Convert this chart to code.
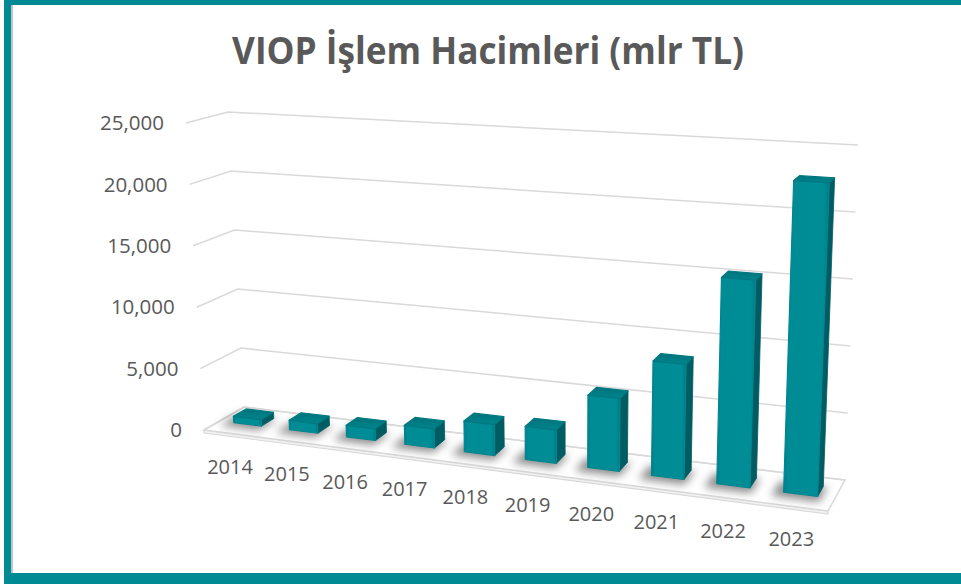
<!DOCTYPE html>
<html>
<head>
<meta charset="utf-8">
<script src="https://cdn.jsdelivr.net/npm/d3@7"></script>
<style>
  html, body { margin: 0; padding: 0; background: #fff; }
  svg { display: block; font-family: "Open Sans", "DejaVu Sans", sans-serif; }
</style>
</head>
<body>
<svg id="chart" width="961" height="584"></svg>
<script>
// VIOP trading volume, bn TL
const years = ["2014", "2015", "2016", "2017", "2018", "2019", "2020", "2021", "2022", "2023"];
const volumes = [520, 760, 930, 1500, 2400, 2550, 5500, 8600, 15300, 22800];
const yTicks = [0, 5000, 10000, 15000, 20000, 25000];
const title = "VIOP İşlem Hacimleri (mlr TL)";

const d3w = window.d3;
const svg = d3w.select("#chart");
const W = 961, H = 584;

// frame
svg.append("rect").attr("x", 0).attr("y", 0).attr("width", W).attr("height", H).attr("fill", "#fff");
svg.append("rect").attr("x", 4).attr("y", 0).attr("width", W).attr("height", 5).attr("fill", "#008b94");
svg.append("rect").attr("x", 4).attr("y", 0).attr("width", 7).attr("height", H).attr("fill", "#008b94");
svg.append("rect").attr("x", 11).attr("y", 5).attr("width", 2).attr("height", H - 16).attr("fill", "#b9c9cb");
svg.append("rect").attr("x", 4).attr("y", 573).attr("width", W).attr("height", 11).attr("fill", "#008b94");

// ---- pseudo 3D projection (box corners of the plot cube, screen px) ----
const BACK = { bl: [244, 407], br: [845, 480], tl: [228, 112], tr: [858, 145] };
const FRONT = { bl: [204, 430], br: [828, 511], tl: [186, 123], tr: [842, 159] };
const warp = t => t / (1.12 - 0.12 * t);   // foreshortening along category axis

function bilin(q, u, v) {
  const bx = q.bl[0] + (q.br[0] - q.bl[0]) * u, by = q.bl[1] + (q.br[1] - q.bl[1]) * u;
  const tx = q.tl[0] + (q.tr[0] - q.tl[0]) * u, ty = q.tl[1] + (q.tr[1] - q.tl[1]) * u;
  return [bx + (tx - bx) * v, by + (ty - by) * v];
}
function P(t, v, z) {
  const u = warp(t);
  const b = bilin(BACK, u, v), f = bilin(FRONT, u, v);
  return [b[0] + (f[0] - b[0]) * z, b[1] + (f[1] - b[1]) * z];
}
const poly = pts => pts.map(p => p.join(",")).join(" ");

const x = d3w.scaleBand().domain(years).range([0, 1]).paddingInner(0.5).paddingOuter(0.25);
const y = d3w.scaleLinear().domain([0, 25000]).range([0, 1]);
const Z0 = 0.28, Z1 = 0.6;

const defs = svg.append("defs");
defs.append("filter").attr("id", "blur").attr("x", "-50%").attr("y", "-50%").attr("width", "200%").attr("height", "200%")
  .append("feGaussianBlur").attr("stdDeviation", 4);
const gFront = defs.append("linearGradient").attr("id", "gFront").attr("x1", 0).attr("x2", 1).attr("y1", 0).attr("y2", 0);
gFront.append("stop").attr("offset", "0%").attr("stop-color", "#007f88");
gFront.append("stop").attr("offset", "10%").attr("stop-color", "#008c95");
gFront.append("stop").attr("offset", "88%").attr("stop-color", "#008d96");
gFront.append("stop").attr("offset", "100%").attr("stop-color", "#007a83");
const gTop = defs.append("linearGradient").attr("id", "gTop").attr("x1", 0).attr("x2", 0).attr("y1", 0).attr("y2", 1);
gTop.append("stop").attr("offset", "0%").attr("stop-color", "#00737b");
gTop.append("stop").attr("offset", "100%").attr("stop-color", "#00858d");

// title
svg.append("text")
  .attr("x", 488).attr("y", 64)
  .attr("text-anchor", "middle")
  .attr("font-size", 37).attr("font-weight", 700)
  .attr("fill", "#595959")
  .attr("textLength", 512).attr("lengthAdjust", "spacingAndGlyphs")
  .text(title);

// floor
const floor = svg.append("g");
floor.append("polygon")
  .attr("points", poly([P(0, 0, 1), P(1, 0, 1), [P(1, 0, 1)[0], P(1, 0, 1)[1] + 3], [P(0, 0, 1)[0], P(0, 0, 1)[1] + 3]]))
  .attr("fill", "#f2f2f2").attr("stroke", "#d9d9d9").attr("stroke-width", 1.2);
floor.append("polygon")
  .attr("points", poly([P(0, 0, 0), P(1, 0, 0), P(1, 0, 1), P(0, 0, 1)]))
  .attr("fill", "#fff").attr("stroke", "#d9d9d9").attr("stroke-width", 1.5);

// gridlines (side wall + back wall) and y labels
const grid = svg.append("g");
yTicks.forEach(v => {
  const vv = y(v);
  grid.append("polyline")
    .attr("points", poly([P(0, vv, 1), P(0, vv, 0), P(1, vv, 0)]))
    .attr("fill", "none").attr("stroke", "#d9d9d9").attr("stroke-width", 1.5);
  const p = P(0, vv, 1);
  grid.append("text")
    .attr("x", p[0] - 22).attr("y", p[1]).attr("dy", "0.35em")
    .attr("text-anchor", "end")
    .attr("font-size", 20.5).attr("fill", "#595959")
    .text(d3w.format(",")(v));
});

// shadows under bars
const shadows = svg.append("g").attr("filter", "url(#blur)");
years.forEach((yr, i) => {
  const t0 = x(yr) - 0.014, t1 = x(yr) + x.bandwidth() + 0.006;
  shadows.append("polygon")
    .attr("points", poly([P(t0, 0, Z0), P(t1, 0, Z0), P(t1, 0, Z1 + 0.16), P(t0, 0, Z1 + 0.16)]))
    .attr("fill", "#000").attr("opacity", 0.45);
});

// bars
const bars = svg.append("g").attr("stroke-linejoin", "round");
years.forEach((yr, i) => {
  const t0 = x(yr), t1 = x(yr) + x.bandwidth();
  const v1 = y(volumes[i]);
  // right side face
  bars.append("polygon")
    .attr("points", poly([P(t1, 0, Z1), P(t1, 0, Z0), P(t1, v1, Z0), P(t1, v1, Z1)]))
    .attr("fill", "#005c63").attr("stroke", "#005c63").attr("stroke-width", 0.8);
  // front face
  bars.append("polygon")
    .attr("points", poly([P(t0, 0, Z1), P(t1, 0, Z1), P(t1, v1, Z1), P(t0, v1, Z1)]))
    .attr("fill", "url(#gFront)").attr("stroke", "#00868f").attr("stroke-width", 1.2);
  // top face
  bars.append("polygon")
    .attr("points", poly([P(t0, v1, Z1), P(t1, v1, Z1), P(t1, v1, Z0), P(t0, v1, Z0)]))
    .attr("fill", "url(#gTop)").attr("stroke", "#007880").attr("stroke-width", 1.2);
});

// category labels
const cats = svg.append("g");
years.forEach(yr => {
  const p = P(x(yr) + x.bandwidth() / 2, 0, 1);
  cats.append("text")
    .attr("x", p[0] - 2).attr("y", p[1] + 33).attr("dy", "0.35em")
    .attr("text-anchor", "middle")
    .attr("font-size", 20).attr("fill", "#595959")
    .text(yr);
});
</script>
</body>
</html>
